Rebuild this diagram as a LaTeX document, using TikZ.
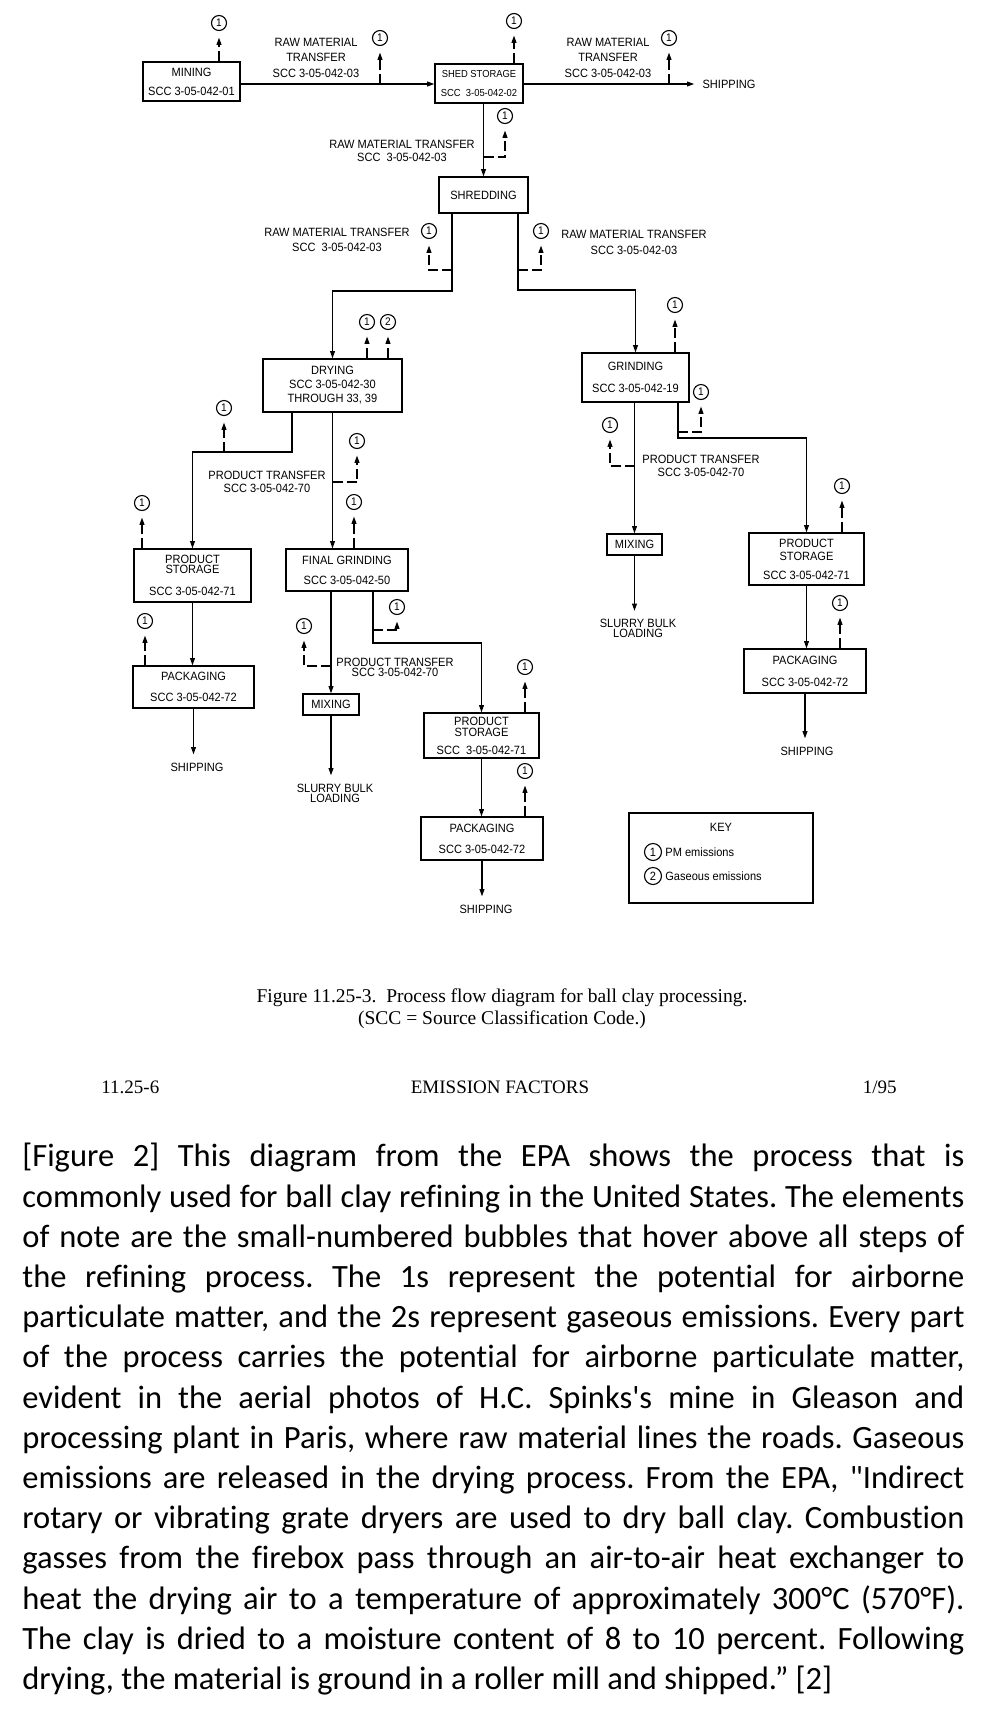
\documentclass[tikz,border=0pt]{standalone}
\usepackage{fontspec}
\usetikzlibrary{arrows.meta}
\newfontfamily\dsans{Liberation Sans}[FakeStretch=0.92]
\newfontfamily\dserif{Liberation Serif}
\newfontfamily\dpara{Carlito}[Ligatures=CommonOff]
\frenchspacing
\tikzset{
  flow/.style={draw=black, line width=0.6pt, -{Triangle[length=3.6pt,width=2.4pt]}},
  emis/.style={draw=black, line width=0.6pt, dash pattern=on 5pt off 2pt, -{Triangle[length=3.6pt,width=2.4pt]}, shorten >=3.25pt},
  em/.style={circle, draw=black, line width=0.55pt, minimum size=7.5pt, inner sep=0pt, font=\dsans\fontsize{5.5}{5.5}\selectfont},
  pbox/.style={draw=black, line width=0.65pt, inner sep=0pt, align=center},
  lab/.style={font=\dsans\fontsize{6}{#1}\selectfont, align=center, inner sep=0pt},
  lab/.default=6.5,
  endlab/.style={font=\dsans\fontsize{6}{5}\selectfont, align=center, inner sep=4pt},
}
\begin{document}
\begin{tikzpicture}[x=0.5pt,y=-0.5pt]
\fill[white] (0,0) rectangle (988,1720);
\useasboundingbox (0,0) rectangle (988,1720);

% ---------- process boxes ----------
\node[pbox, font=\dsans\fontsize{6}{9.5}\selectfont, minimum width=48.5pt, minimum height=19.5pt] (mining) at (191.5,81.5) {MINING\\SCC 3-05-042-01};
\node[pbox, font=\dsans\fontsize{5.1}{9.5}\selectfont, minimum width=44pt, minimum height=19.5pt] (shed) at (479,83.5) {SHED STORAGE\\SCC\ \ 3-05-042-02};
\node[pbox, font=\dsans\fontsize{6}{9}\selectfont, minimum width=44.5pt, minimum height=18pt] (shred) at (483.5,195) {SHREDDING};
\node[pbox, font=\dsans\fontsize{6}{7}\selectfont, minimum width=69.5pt, minimum height=26.5pt] (dry) at (332.5,385.5) {DRYING\\SCC 3-05-042-30\\THROUGH 33, 39};
\node[pbox, font=\dsans\fontsize{6}{11}\selectfont, minimum width=53.5pt, minimum height=24.5pt] (grind) at (635.5,377.5) {GRINDING\\SCC 3-05-042-19};
\node[pbox, font=\dsans\fontsize{6}{5}\selectfont, minimum width=58.5pt, minimum height=26.5pt] (ps1) at (192.5,575.5) {PRODUCT\\STORAGE\\[6pt]SCC 3-05-042-71};
\node[pbox, font=\dsans\fontsize{6}{10.5}\selectfont, minimum width=60.5pt, minimum height=21pt] (pk1) at (193.5,687) {PACKAGING\\SCC 3-05-042-72};
\node[pbox, font=\dsans\fontsize{6}{10}\selectfont, minimum width=61pt, minimum height=21pt] (fg) at (347,570) {FINAL GRINDING\\SCC 3-05-042-50};
\node[pbox, font=\dsans\fontsize{6}{6}\selectfont, minimum width=28pt, minimum height=10.5pt] (mx1) at (331,704.5) {MIXING};
\node[pbox, font=\dsans\fontsize{6}{5.5}\selectfont, minimum width=57.5pt, minimum height=22.5pt] (ps2) at (481.5,735.5) {PRODUCT\\STORAGE\\[3.5pt]SCC\ \ 3-05-042-71};
\node[pbox, font=\dsans\fontsize{6}{10.5}\selectfont, minimum width=61pt, minimum height=21.5pt] (pk2) at (482,838.5) {PACKAGING\\SCC 3-05-042-72};
\node[pbox, font=\dsans\fontsize{6}{6}\selectfont, minimum width=27.5pt, minimum height=10.5pt] (mx2) at (634.5,544.5) {MIXING};
\node[pbox, font=\dsans\fontsize{6}{6.5}\selectfont, minimum width=57.5pt, minimum height=26pt] (ps3) at (806.5,559) {PRODUCT\\STORAGE\\[3pt]SCC 3-05-042-71};
\node[pbox, font=\dsans\fontsize{6}{11}\selectfont, minimum width=61pt, minimum height=22pt] (pk3) at (805,671) {PACKAGING\\SCC 3-05-042-72};

% ---------- end labels ----------
\node[endlab] (ship1) at (729,84) {SHIPPING};
\node[endlab] (ship2) at (197,767) {SHIPPING};
\node[endlab] (ship3) at (486,909) {SHIPPING};
\node[endlab] (ship4) at (807,751) {SHIPPING};
\node[endlab] (sl1) at (335,793) {SLURRY BULK\\LOADING};
\node[endlab] (sl2) at (638,628.5) {SLURRY BULK\\LOADING};

% ---------- transfer labels ----------
\node[lab=7.75] (l1) at (316,57.5) {RAW MATERIAL\\TRANSFER\\SCC 3-05-042-03};
\node[lab=7.75] (l2) at (608,57.5) {RAW MATERIAL\\TRANSFER\\SCC 3-05-042-03};
\node[lab=6.5] (l3) at (402,150.5) {RAW MATERIAL TRANSFER\\SCC\ \ 3-05-042-03};
\node[lab=7.5] (l4) at (337,239.5) {RAW MATERIAL TRANSFER\\SCC\ \ 3-05-042-03};
\node[lab=8] (l5) at (634,242) {RAW MATERIAL TRANSFER\\SCC 3-05-042-03};
\node[lab=6.5] (l6) at (267,481.5) {PRODUCT TRANSFER\\SCC 3-05-042-70};
\node[lab=5] (l7) at (395,667) {PRODUCT TRANSFER\\SCC 3-05-042-70};
\node[lab=6.5] (l8) at (701,465.5) {PRODUCT TRANSFER\\SCC 3-05-042-70};

% ---------- emission circles ----------
\node[em] (e1) at (219,23) {1};
\node[em] (e2) at (380,38) {1};
\node[em] (e3) at (514,21) {1};
\node[em] (e4) at (669,38) {1};
\node[em] (e5) at (505,116) {1};
\node[em] (e6) at (429,231) {1};
\node[em] (e7) at (541,231) {1};
\node[em] (e8) at (367,322) {1};
\node[em] (e9) at (388,322) {2};
\node[em] (e10) at (224,408) {1};
\node[em] (e11) at (357,441) {1};
\node[em] (e12) at (142,503) {1};
\node[em] (e13) at (354,502) {1};
\node[em] (e14) at (145,621) {1};
\node[em] (e15) at (304,626) {1};
\node[em] (e16) at (397,607) {1};
\node[em] (e17) at (525,667) {1};
\node[em] (e18) at (525,771) {1};
\node[em] (e19) at (675,305) {1};
\node[em] (e20) at (610,425) {1};
\node[em] (e21) at (701,392) {1};
\node[em] (e22) at (842,486) {1};
\node[em] (e23) at (840,603) {1};

% ---------- junction coordinates ----------
\coordinate (r84) at (0,84);
\coordinate (j2) at (380,84);
\coordinate (j4) at (669,84);
\coordinate (j5) at (483.5,157);
\coordinate (j6) at (452,270);
\coordinate (j7) at (518,270);
\coordinate (k4) at (452,291);
\coordinate (k5) at (518,290);
\coordinate (k6) at (292,452);
\coordinate (j10) at (224,452);
\coordinate (j11) at (332.5,482);
\coordinate (k11) at (373,643);
\coordinate (j15) at (331,666);
\coordinate (j16) at (373,630);
\coordinate (k16) at (678,438);
\coordinate (j20) at (634.5,466);
\coordinate (j21) at (678,432);

% ---------- flows ----------
\draw[flow] (mining.east |- r84) -- (shed.west |- r84);
\draw[flow] (shed.east |- r84) -- (ship1.west);
\draw[flow] (shed.south -| shred.north) -- (shred.north);
\draw[flow] (shred.south -| k4) -- (k4) -| (dry.north);
\draw[flow] (shred.south -| k5) -- (k5) -| (grind.north);
\draw[flow] (dry.south -| k6) -- (k6) -| (ps1.north);
\draw[flow] (dry.south) -- (dry.south |- fg.north);
\draw[flow] (ps1.south) -- (ps1.south |- pk1.north);
\draw[flow] (pk1.south) -- (pk1.south |- ship2.north);
\draw[flow] (fg.south -| mx1.north) -- (mx1.north);
\draw[flow] (fg.south -| k11) -- (k11) -| (ps2.north);
\draw[flow] (mx1.south) -- (mx1.south |- sl1.north);
\draw[flow] (ps2.south) -- (ps2.south |- pk2.north);
\draw[flow] (pk2.south) -- (pk2.south |- ship3.north);
\draw[flow] (grind.south -| mx2.north) -- (mx2.north);
\draw[flow] (grind.south -| k16) -- (k16) -| (ps3.north);
\draw[flow] (mx2.south) -- (mx2.south |- sl2.north);
\draw[flow] (ps3.south) -- (ps3.south |- pk3.north);
\draw[flow] (pk3.south) -- (pk3.south |- ship4.north);

% ---------- emissions ----------
\draw[emis] (e1 |- mining.north) -- (e1);
\draw[emis] (j2) -- (e2);
\draw[emis] (e3 |- shed.north) -- (e3);
\draw[emis] (j4) -- (e4);
\draw[emis] (j5) -| (e5);
\draw[emis] (j6) -| (e6);
\draw[emis] (j7) -| (e7);
\draw[emis] (e8 |- dry.north) -- (e8);
\draw[emis] (e9 |- dry.north) -- (e9);
\draw[emis] (j10) -- (e10);
\draw[emis] (j11) -| (e11);
\draw[emis] (e12 |- ps1.north) -- (e12);
\draw[emis] (e13 |- fg.north) -- (e13);
\draw[emis] (e14 |- pk1.north) -- (e14);
\draw[emis] (j15) -| (e15);
\draw[emis] (j16) -| (e16);
\draw[emis] (e17 |- ps2.north) -- (e17);
\draw[emis] (e18 |- pk2.north) -- (e18);
\draw[emis] (e19 |- grind.north) -- (e19);
\draw[emis] (j20) -| (e20);
\draw[emis] (j21) -| (e21);
\draw[emis] (e22 |- ps3.north) -- (e22);
\draw[emis] (e23 |- pk3.north) -- (e23);

% ---------- key ----------
\node[pbox, minimum width=92pt, minimum height=45pt] (keybox) at (721,858) {};
\node[lab] (keyt) at (721,827) {KEY};
\node[em, minimum size=8.5pt, font=\dsans\fontsize{6}{6}\selectfont] (k1) at (653,852) {1};
\node[lab, anchor=west] (k1t) at (665,852) {PM emissions};
\node[em, minimum size=8.5pt, font=\dsans\fontsize{6}{6}\selectfont] (k2) at (653,876) {2};
\node[lab, anchor=west] (k2t) at (665,876) {Gaseous emissions};

% ---------- caption and footer ----------
\node[font=\dserif\fontsize{9.75}{11}\selectfont, align=center, inner sep=0pt] (cap) at (502,1009) {Figure 11.25-3.\ \ Process flow diagram for ball clay processing.\\(SCC = Source Classification Code.)};
\node[font=\dserif\fontsize{9.5}{11}\selectfont, anchor=west, inner sep=0pt] (f1) at (101,1087) {11.25-6};
\node[font=\dserif\fontsize{9.5}{11}\selectfont, inner sep=0pt] (f2) at (500,1087) {EMISSION FACTORS};
\node[font=\dserif\fontsize{9.5}{11}\selectfont, anchor=east, inner sep=0pt] (f3) at (897,1087) {1/95};

% ---------- paragraph ----------
\node[anchor=north west, inner sep=0pt, text width=471pt, align=justify, font=\dpara\fontsize{16.25}{20.1}\selectfont] (para) at (22,1143) {[Figure 2] This diagram from the EPA shows the process that is\linebreak
commonly used for ball clay refining in the United States. The elements\linebreak
of note are the small-numbered bubbles that hover above all steps of\linebreak
the refining process. The 1s represent the potential for airborne\linebreak
particulate matter, and the 2s represent gaseous emissions. Every part\linebreak
of the process carries the potential for airborne particulate matter,\linebreak
evident in the aerial photos of H.C. Spinks's mine in Gleason and\linebreak
processing plant in Paris, where raw material lines the roads. Gaseous\linebreak
emissions are released in the drying process. From the EPA, "Indirect\linebreak
rotary or vibrating grate dryers are used to dry ball clay. Combustion\linebreak
gasses from the firebox pass through an air-to-air heat exchanger to\linebreak
heat the drying air to a temperature of approximately 300°C (570°F).\linebreak
The clay is dried to a moisture content of 8 to 10 percent. Following\linebreak
drying, the material is ground in a roller mill and shipped.” [2]};
\end{tikzpicture}
\end{document}
